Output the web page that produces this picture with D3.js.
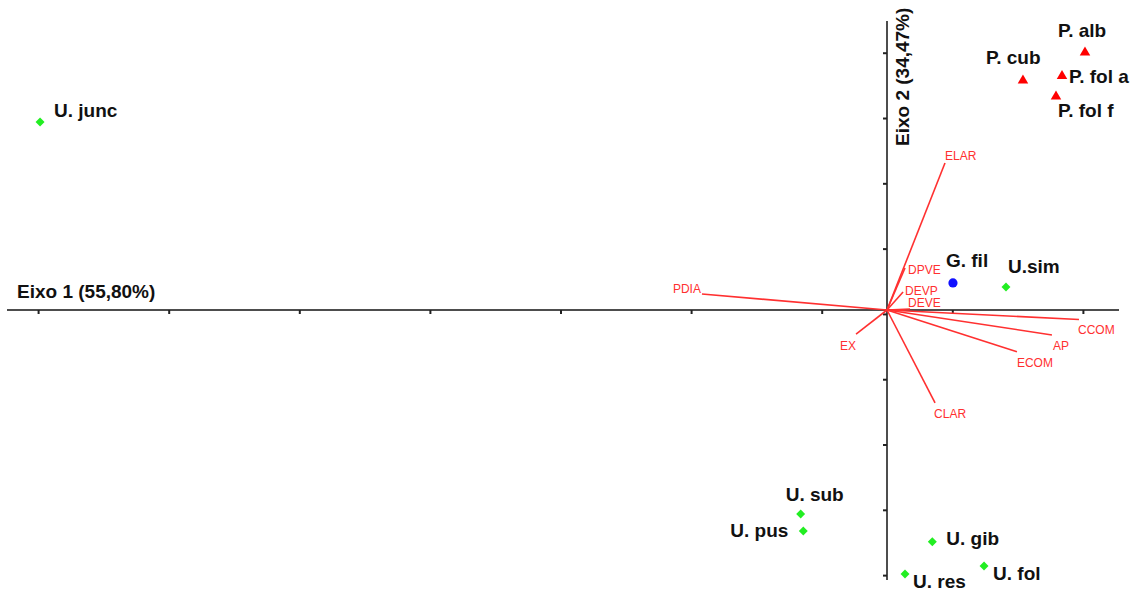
<!DOCTYPE html>
<html><head><meta charset="utf-8">
<script src="https://cdn.jsdelivr.net/npm/d3@7"></script>
<style>
html,body{margin:0;padding:0;background:#fff;}
svg{display:block;}
</style></head>
<body>
<svg id="chart" width="1136" height="592"></svg>
<script>
// ---- data (PCA scores, axis units) ----
const axisTitle1 = "Eixo 1 (55,80%)";
const axisTitle2 = "Eixo 2 (34,47%)";
const xTicks = [-6.5, -5.5, -4.5, -3.5, -2.5, -1.5, -0.5, 0.5, 1.5];
const yTicks = [1.97, 1.47, 0.97, 0.47, -0.03, -0.53, -1.03, -1.53, -2.03];

const speciesNames = ["U. junc","P. alb","P. cub","P. fol a","P. fol f","G. fil","U.sim","U. sub","U. pus","U. gib","U. fol","U. res"];
const speciesGroup = ["U","P","P","P","P","G","U","U","U","U","U","U"];
const speciesX = [-6.485, 1.516, 1.041, 1.340, 1.294, 0.505, 0.911, -0.661, -0.641, 0.347, 0.743, 0.138];
const speciesY = [1.440, 1.972, 1.757, 1.792, 1.635, 0.207, 0.176, -1.562, -1.692, -1.774, -1.960, -2.021];

const varNames = ["ELAR","DPVE","DEVP","DEVE","PDIA","EX","CCOM","AP","ECOM","CLAR"];
const varX = [0.444, 0.138, 0.123, 0.176, -1.417, -0.237, 1.470, 1.263, 0.995, 0.368];
const varY = [1.126, 0.322, 0.138, 0.008, 0.123, -0.184, -0.073, -0.191, -0.319, -0.712];

// ---- layout (label offsets in px) ----
const speciesLabelOffset = [[14,-5],[-27,-15.5],[-37,-16.5],[7,7],[2,20.5],[-7,-16],[2,-14],[-15,-13],[-73,6],[14,3],[9,14],[8,14]];
const varLabelOffset = [[0,-3],[3,6],[2,3],[-2,-2],[-1,-1],[-16,16],[-1,14.5],[1,15],[0,15],[-1,15]];
const varLabelAnchor = ["start","start","start","start","end","start","start","start","start","start"];

const svg = d3.select("#chart");
const ux = 130.6;
const x = d3.scaleLinear().domain([-7, 2]).range([887 - 7*ux, 887 + 2*ux]);
const y = d3.scaleLinear().domain([-3, 3]).range([310 + 3*ux, 310 - 3*ux]);
const x0 = x(0), y0 = y(0);

const axisColor = "#4d4d4d";
// horizontal axis
svg.append("line").attr("x1", 7).attr("x2", 1119).attr("y1", y0).attr("y2", y0)
  .attr("stroke", axisColor).attr("stroke-width", 2);
const gx = svg.append("g").attr("transform", `translate(0,${y0})`)
  .call(d3.axisBottom(x).tickValues(xTicks).tickSize(4).tickFormat(""));
gx.select(".domain").remove();
gx.selectAll(".tick line").attr("stroke", "#222").attr("stroke-width", 2);

// vertical axis
svg.append("line").attr("x1", x0).attr("x2", x0).attr("y1", 21).attr("y2", 580)
  .attr("stroke", axisColor).attr("stroke-width", 2);
const gy = svg.append("g").attr("transform", `translate(${x0},0)`)
  .call(d3.axisLeft(y).tickValues(yTicks).tickSize(4).tickFormat(""));
gy.select(".domain").remove();
gy.selectAll(".tick line").attr("stroke", "#222").attr("stroke-width", 2);

// axis titles
const titleFont = "'Liberation Sans', Arial, sans-serif";
svg.append("text").attr("x", 17).attr("y", 298).text(axisTitle1)
  .attr("font-family", titleFont).attr("font-weight", "bold").attr("font-size", 19).attr("fill", "#111");
svg.append("text").attr("transform", "translate(909,146) rotate(-90)").text(axisTitle2)
  .attr("font-family", titleFont).attr("font-weight", "bold").attr("font-size", 19).attr("fill", "#111");

// variable vectors
const vars = varNames.map((n, i) => ({n, vx: varX[i], vy: varY[i], off: varLabelOffset[i], anchor: varLabelAnchor[i]}));
svg.append("g").selectAll("line").data(vars).join("line")
  .attr("x1", x0).attr("y1", y0).attr("x2", d => x(d.vx)).attr("y2", d => y(d.vy))
  .attr("stroke", "#ff3030").attr("stroke-width", 1.6);
svg.append("g").selectAll("text").data(vars).join("text")
  .attr("x", d => x(d.vx) + d.off[0]).attr("y", d => y(d.vy) + d.off[1])
  .attr("text-anchor", d => d.anchor)
  .attr("font-family", titleFont).attr("font-size", 12).attr("fill", "#ff3030")
  .text(d => d.n);

// species points
const sp = speciesNames.map((n, i) => ({n, g: speciesGroup[i], sx: speciesX[i], sy: speciesY[i], off: speciesLabelOffset[i]}));
const ptG = svg.append("g");
sp.forEach(d => {
  const px = x(d.sx), py = y(d.sy);
  if (d.g === "P") {
    ptG.append("path").attr("d", d3.symbol(d3.symbolTriangle, 48)())
      .attr("transform", `translate(${px},${py})`).attr("fill", "#ff0000");
  } else if (d.g === "G") {
    ptG.append("circle").attr("cx", px).attr("cy", py).attr("r", 4.6).attr("fill", "#1010ff");
  } else {
    ptG.append("path").attr("d", d3.symbol(d3.symbolSquare, 40)())
      .attr("transform", `translate(${px},${py}) rotate(45)`).attr("fill", "#22ee22");
  }
});
svg.append("g").selectAll("text").data(sp).join("text")
  .attr("x", d => x(d.sx) + d.off[0]).attr("y", d => y(d.sy) + d.off[1])
  .attr("font-family", titleFont).attr("font-weight", "bold").attr("font-size", 19).attr("fill", "#111")
  .text(d => d.n);
</script>
</body></html>
